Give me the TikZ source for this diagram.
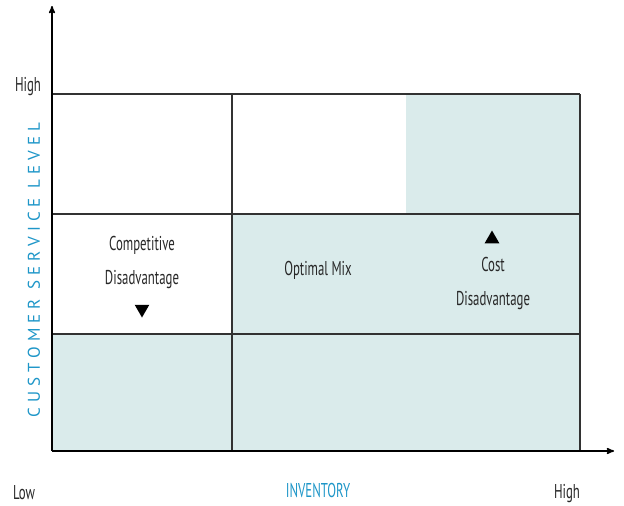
\documentclass[tikz,border=0pt]{standalone}
\usepackage{fontspec}
\setmainfont{PT Sans}
\newfontfamily\narrowfont[FakeStretch=0.64]{PT Sans}
\newfontfamily\spacedfont[LetterSpace=30]{PT Sans}
\usetikzlibrary{shapes.geometric, arrows}
\definecolor{cellteal}{RGB}{218,235,235}
\definecolor{axisblue}{RGB}{30,150,200}
\definecolor{gridgrey}{RGB}{50,50,50}
\definecolor{textgrey}{RGB}{40,40,40}
\tikzstyle{cell} = [fill=cellteal, draw=none]
\tikzstyle{gridline} = [line width=2.2pt, draw=gridgrey]
\tikzstyle{axisline} = [line width=1.5pt, draw=black, ->, >=stealth']
\tikzstyle{tick} = [text=textgrey, font=\narrowfont\fontsize{20}{24}\selectfont]
\tikzstyle{zone} = [text=textgrey, align=center, font=\narrowfont\fontsize{20}{34}\selectfont]
\tikzstyle{pointer} = [regular polygon, regular polygon sides=3, fill=black, inner sep=0pt, minimum size=17pt]

\begin{document}
\begin{tikzpicture}[x=1pt,y=-1pt]
\useasboundingbox (0,0) rectangle (624,506);

% shaded cells
\fill[cellteal] (406,94) rectangle (580,214);
\fill[cellteal] (232,214) rectangle (580,334);
\fill[cellteal] (52,334) rectangle (580,451);

\coordinate (origin) at (52,451);
\coordinate (ytip) at (52,6);
\coordinate (xtip) at (614,451);

% grid
\draw [gridline] (52,94) -- (580,94);
\draw [gridline] (52,214) -- (580,214);
\draw [gridline] (52,334) -- (580,334);
\draw [gridline] (232,94) -- (232,451);
\draw [gridline] (580,94) -- (580,451);

% axes
\draw [axisline] (origin) -- (ytip);
\draw [axisline] (origin) -- (xtip);

\node (yhigh) [tick] at (28,87) {High};
\node (xlow) [tick] at (24,493) {Low};
\node (xhigh) [tick] at (567,494) {High};
\node (xname) [text=axisblue, font=\narrowfont\fontsize{20}{24}\selectfont] at (318,490) {INVENTORY};
\node (yname) [text=axisblue, rotate=90, font=\spacedfont\fontsize{17}{20}\selectfont] at (34,270) {CUSTOMER SERVICE LEVEL};

\node (compdis) [zone] at (142,262) {Competitive\\Disadvantage};
\node (compdown) [pointer, shape border rotate=180] at (142,309) {};
\node (optimal) [zone] at (318,270) {Optimal Mix};
\node (costup) [pointer] at (492,239) {};
\node (costdis) [zone] at (493,283) {Cost\\Disadvantage};

\end{tikzpicture}
\end{document}
